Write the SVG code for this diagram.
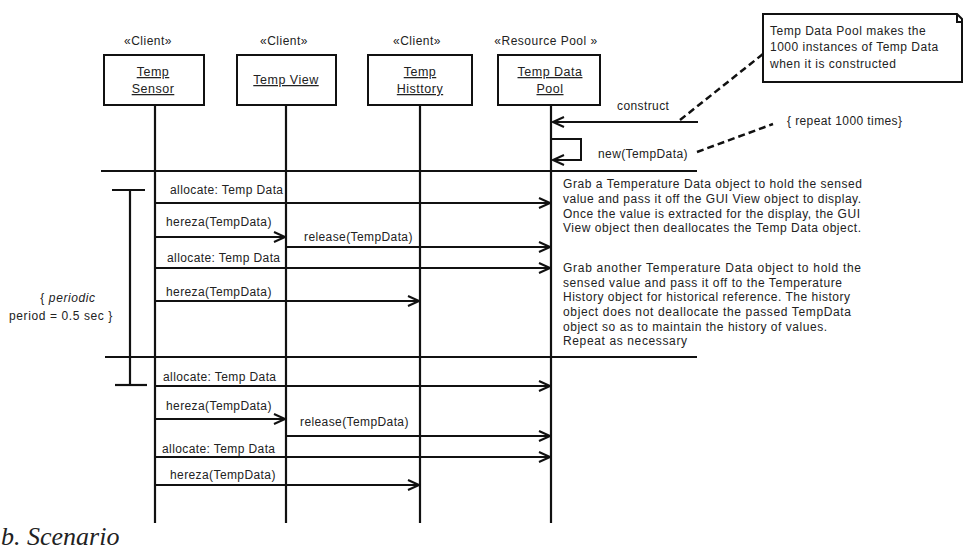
<svg xmlns="http://www.w3.org/2000/svg" width="966" height="551" viewBox="0 0 966 551">
<style>
  text { font-family: "Liberation Sans", Arial, sans-serif; fill: #222; }
  .lbl { font-size: 12px; letter-spacing: 0.4px; }
  .st { font-size: 12px; letter-spacing: 0.5px; text-anchor: middle; }
  .nm { font-size: 12.5px; letter-spacing: 0.5px; text-anchor: middle; text-decoration: underline; }
  .box { fill: #fff; stroke: #111; stroke-width: 2; }
  .life { stroke: #111; stroke-width: 2.2; fill: none; }
  .msg { stroke: #111; stroke-width: 2; fill: none; marker-end: url(#arr); }
  .sep { stroke: #111; stroke-width: 2.2; fill: none; }
  .dash { stroke: #111; stroke-width: 2.5; stroke-dasharray: 7 4; fill: none; }
  .txt { font-size: 12px; }
  .note { font-size: 12px; letter-spacing: 0.5px; }
  .per { font-size: 12px; letter-spacing: 0.6px; text-anchor: middle; }
  .cap { font-family: "Liberation Serif", "Times New Roman", serif; font-style: italic; font-size: 26px; }
</style>
<defs>
  <marker id="arr" markerUnits="userSpaceOnUse" markerWidth="14" markerHeight="14" refX="12" refY="6" orient="auto">
    <path d="M1,1 L12,6 L1,11" fill="none" stroke="#111" stroke-width="2"/>
  </marker>
</defs>
<rect width="966" height="551" fill="#fff"/>

<g id="lifeline-sensor">
  <text class="st" x="148" y="45">«Client»</text>
  <rect class="box" x="104" y="55" width="100" height="50"/>
  <text class="nm" x="153" y="76">Temp</text>
  <text class="nm" x="153" y="93">Sensor</text>
  <line class="life" x1="155" y1="105" x2="155" y2="523"/>
</g>
<g id="lifeline-view">
  <text class="st" x="284" y="45">«Client»</text>
  <rect class="box" x="237" y="55" width="99" height="50"/>
  <text class="nm" x="286" y="84">Temp View</text>
  <line class="life" x1="286" y1="105" x2="286" y2="523"/>
</g>
<g id="lifeline-history">
  <text class="st" x="417" y="45">«Client»</text>
  <rect class="box" x="368" y="55" width="104" height="50"/>
  <text class="nm" x="420" y="76">Temp</text>
  <text class="nm" x="420" y="93">Histtory</text>
  <line class="life" x1="420" y1="105" x2="420" y2="523"/>
</g>
<g id="lifeline-pool">
  <text class="st" x="546" y="45">«Resource Pool »</text>
  <rect class="box" x="498" y="55" width="102" height="50"/>
  <text class="nm" x="550" y="76">Temp Data</text>
  <text class="nm" x="550" y="93">Pool</text>
  <line class="life" x1="551" y1="105" x2="551" y2="523"/>
</g>

<g id="note">
  <path class="box" d="M763,14 H957 L962,19 V82 H763 Z"/>
  <path d="M957,14 V22 H962" fill="none" stroke="#111" stroke-width="2"/>
  <text class="note" x="770" y="35">Temp Data Pool makes the</text>
  <text class="note" x="770" y="51">1000 instances of Temp Data</text>
  <text class="note" x="770" y="68">when it is constructed</text>
</g>

<g id="connectors">
  <line class="dash" x1="680" y1="120" x2="763" y2="54"/>
  <line class="dash" x1="697" y1="152" x2="773" y2="124"/>
  <line class="msg" x1="698" y1="122" x2="553" y2="122"/>
  <path class="msg" d="M552,139 H581 V160 H553"/>
  <line class="sep" x1="101" y1="171" x2="697" y2="171"/>
  <line class="sep" x1="105" y1="357" x2="697" y2="357"/>

  <line class="msg" x1="155" y1="203" x2="550" y2="203"/>
  <line class="msg" x1="155" y1="237" x2="285" y2="237"/>
  <line class="msg" x1="286" y1="247" x2="550" y2="247"/>
  <line class="msg" x1="155" y1="268" x2="550" y2="268"/>
  <line class="msg" x1="155" y1="301" x2="419" y2="301"/>

  <line class="msg" x1="155" y1="386" x2="550" y2="386"/>
  <line class="msg" x1="155" y1="419" x2="285" y2="419"/>
  <line class="msg" x1="286" y1="436" x2="550" y2="436"/>
  <line class="msg" x1="155" y1="457" x2="550" y2="457"/>
  <line class="msg" x1="155" y1="485" x2="419" y2="485"/>

  <line class="sep" x1="130" y1="190" x2="130" y2="385"/>
  <line class="sep" x1="112" y1="190" x2="145" y2="190"/>
  <line class="sep" x1="115" y1="385" x2="147" y2="385"/>
</g>

<g id="labels">
  <text class="lbl" x="617" y="110">construct</text>
  <text class="lbl" x="598" y="158">new(TempData)</text>
  <text class="lbl" x="787" y="125">{ repeat 1000 times}</text>

  <text class="lbl" x="170" y="194">allocate: Temp Data</text>
  <text class="lbl" x="166" y="226">hereza(TempData)</text>
  <text class="lbl" x="304" y="241">release(TempData)</text>
  <text class="lbl" x="167" y="262">allocate: Temp Data</text>
  <text class="lbl" x="166" y="296">hereza(TempData)</text>

  <text class="lbl" x="163" y="381">allocate: Temp Data</text>
  <text class="lbl" x="166" y="410">hereza(TempData)</text>
  <text class="lbl" x="300" y="426">release(TempData)</text>
  <text class="lbl" x="162" y="453">allocate: Temp Data</text>
  <text class="lbl" x="170" y="479">hereza(TempData)</text>

  <text class="per" x="68" y="302">{ <tspan font-style="italic">periodic</tspan></text>
  <text class="per" x="61" y="320">period = 0.5 sec }</text>

  <text class="txt" x="563" y="188" textLength="299" lengthAdjust="spacing">Grab a Temperature Data object to hold the sensed</text>
  <text class="txt" x="563" y="203" textLength="298" lengthAdjust="spacing">value and pass it off the GUI View object to display.</text>
  <text class="txt" x="563" y="218" textLength="297" lengthAdjust="spacing">Once the value is extracted for the display, the GUI</text>
  <text class="txt" x="563" y="232" textLength="298" lengthAdjust="spacing">View object then deallocates the Temp Data object.</text>
  <text class="txt" x="563" y="272" textLength="298" lengthAdjust="spacing">Grab another Temperature Data object to hold the</text>
  <text class="txt" x="563" y="287" textLength="279" lengthAdjust="spacing">sensed value and pass it off to the Temperature</text>
  <text class="txt" x="563" y="301" textLength="287" lengthAdjust="spacing">History object for historical reference. The history</text>
  <text class="txt" x="563" y="316" textLength="288" lengthAdjust="spacing">object does not deallocate the passed TempData</text>
  <text class="txt" x="563" y="331" textLength="264" lengthAdjust="spacing">object so as to maintain the history of values.</text>
  <text class="txt" x="563" y="345" textLength="124" lengthAdjust="spacing">Repeat as necessary</text>

  <text class="cap" x="1" y="545">b. Scenario</text>
</g>
</svg>
